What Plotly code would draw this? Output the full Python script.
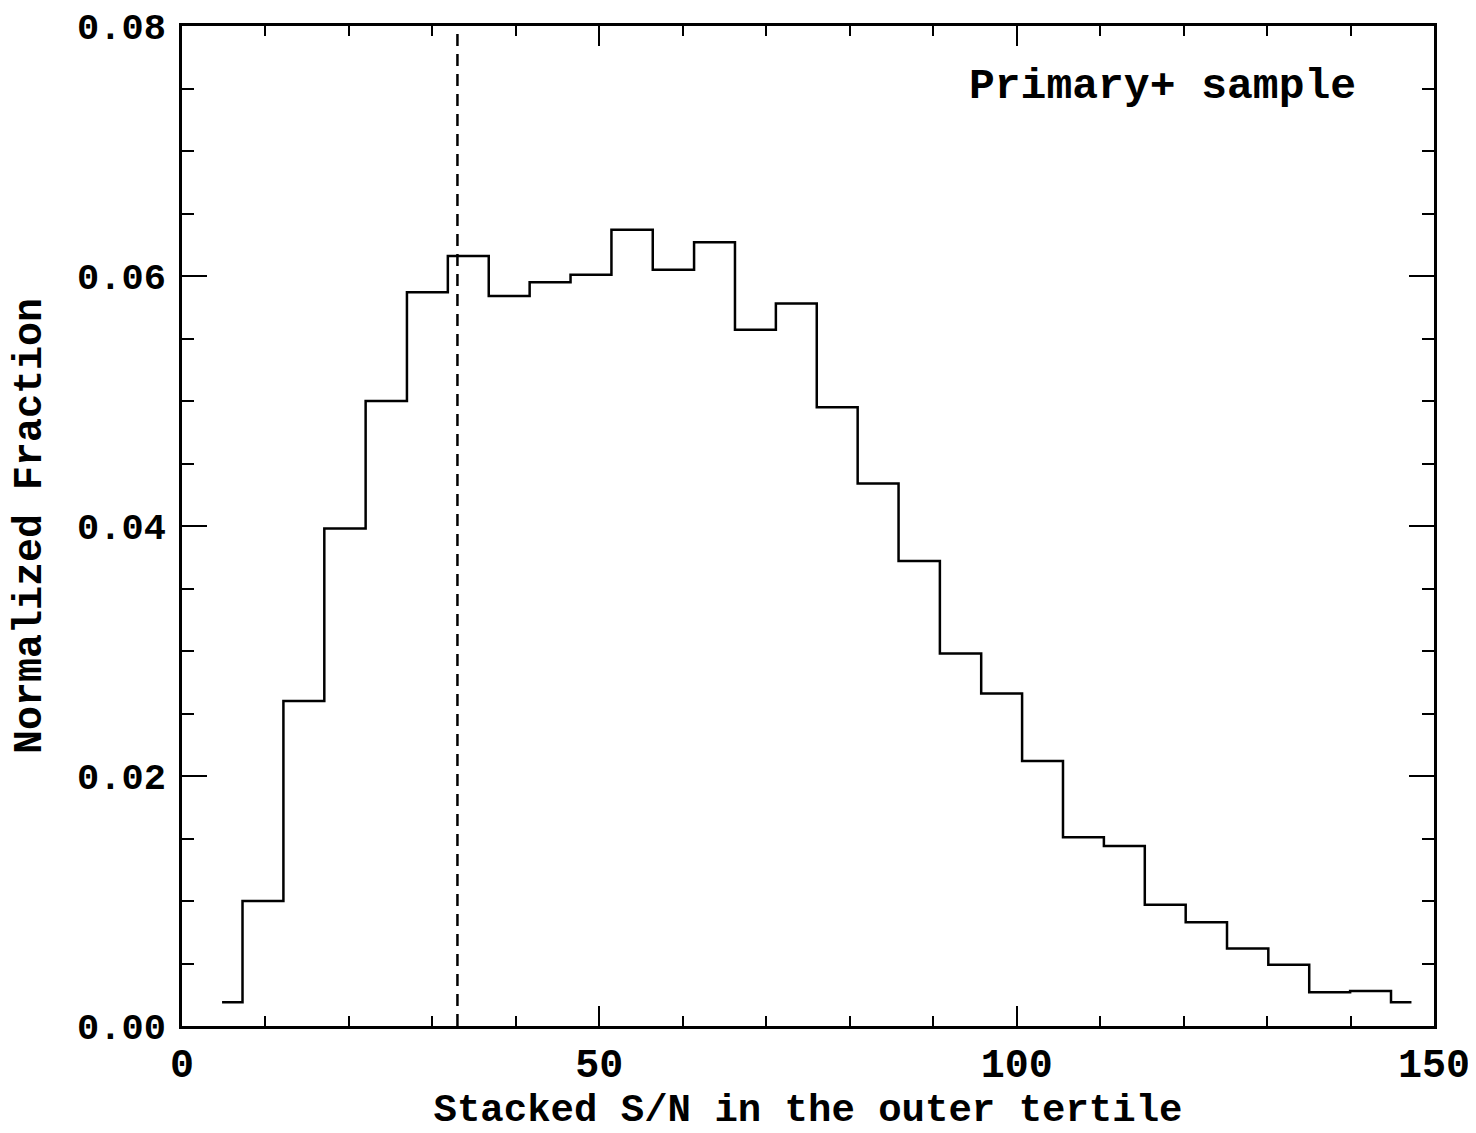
import plotly.graph_objects as go

# Гистограмма S/N (центры бинов и доли)
sn_centers = [4.8, 9.7, 14.6, 19.5, 24.5, 29.4, 34.3, 39.2, 44.1, 49.0,
              53.9, 58.9, 63.8, 68.7, 73.6, 78.5, 83.4, 88.3, 93.3, 98.2,
              103.1, 108.0, 112.9, 117.8, 122.7, 127.7, 132.6, 137.5, 142.4, 147.3]
fraction = [0.0019, 0.0100, 0.0260, 0.0398, 0.0500, 0.0587, 0.0616, 0.0584, 0.0595, 0.0601,
            0.0637, 0.0605, 0.0627, 0.0557, 0.0578, 0.0495, 0.0434, 0.0372, 0.0298, 0.0266,
            0.0212, 0.0151, 0.0144, 0.0097, 0.0083, 0.0062, 0.0049, 0.0027, 0.0028, 0.0019]
sn_cut = 33.0
x_ticks = [0, 50, 100, 150]
y_ticks = [0.0, 0.02, 0.04, 0.06, 0.08]
y_ticklabels = ["0.00", "0.02", "0.04", "0.06", "0.08"]

font = "Liberation Mono"

fig = go.Figure()
fig.add_trace(go.Scatter(x=sn_centers, y=fraction, mode="lines",
                         line=dict(color="black", width=2.5, shape="hvh"),
                         showlegend=False))
fig.add_trace(go.Scatter(x=[sn_cut, sn_cut], y=[0, 0.08], mode="lines",
                         line=dict(color="black", width=2.5, dash="12px,8px"),
                         showlegend=False))

fig.add_annotation(text="Primary+ sample", x=0.939, y=0.94, xref="paper", yref="paper",
                   xanchor="right", yanchor="middle", showarrow=False,
                   font=dict(family=font, size=43, color="black", weight="bold"))

fig.update_xaxes(range=[0, 150], tickvals=x_ticks, ticks="inside", ticklen=20, tickwidth=2,
                 showline=True, linewidth=2.5, linecolor="black", mirror="ticks",
                 showgrid=False, zeroline=False, ticklabeloverflow="allow", automargin=False,
                 minor=dict(dtick=10, ticks="inside", ticklen=10, tickwidth=2, tickcolor="black"),
                 tickcolor="black",
                 tickfont=dict(family=font, size=40, color="black", weight="bold"),
                 title=dict(text="Stacked S/N in the outer tertile", standoff=2,
                            font=dict(family=font, size=39, color="black", weight="bold")))
fig.update_yaxes(range=[0, 0.0800001], tickvals=y_ticks, ticktext=y_ticklabels, ticks="inside",
                 ticklen=25, tickwidth=2, tickcolor="black",
                 showline=True, linewidth=2.5, linecolor="black", mirror="ticks",
                 showgrid=False, zeroline=False, ticklabelstandoff=6, ticklabeloverflow="allow",
                 automargin=False,
                 minor=dict(dtick=0.005, ticks="inside", ticklen=12, tickwidth=2, tickcolor="black"),
                 tickfont=dict(family=font, size=37, color="black", weight="bold"),
                 title=dict(text="Normalized Fraction", standoff=30,
                            font=dict(family=font, size=40, color="black", weight="bold")))

fig.update_layout(width=1476, height=1133, plot_bgcolor="white", paper_bgcolor="white",
                  margin=dict(l=174, r=50, t=18, b=115))
fig.write_html("out.html")
